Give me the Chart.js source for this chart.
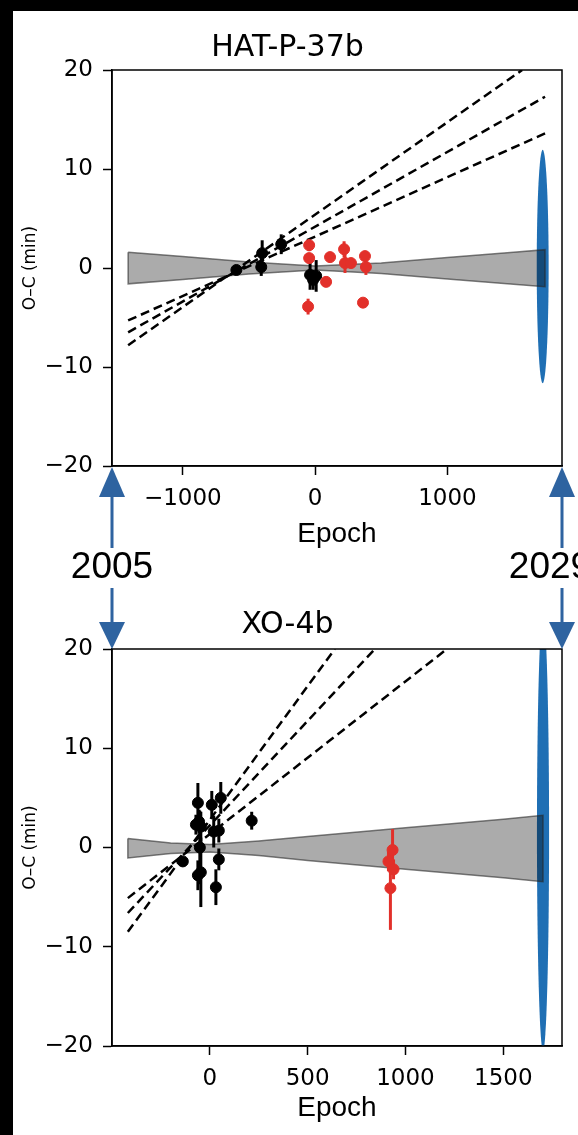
<!DOCTYPE html>
<html>
<head>
<meta charset="utf-8">
<script src="https://cdn.jsdelivr.net/npm/chart.js@4.4.1/dist/chart.umd.min.js"></script>
<style>
  html, body { margin: 0; padding: 0; background: #fff; }
  body { width: 578px; height: 1135px; position: relative; overflow: hidden; }
  #barTop { position: absolute; left: 0; top: 0; width: 578px; height: 11px; background: #000; }
  #barLeft { position: absolute; left: 0; top: 0; width: 13px; height: 1135px; background: #000; }
  .box { position: absolute; left: 13px; width: 565px; }
  #box1 { top: 11px; height: 589px; }
  #box2 { top: 600px; height: 535px; }
  .year { position: absolute; font-family: "Liberation Sans", Arial, sans-serif; font-size: 37px;
          color: #000; transform: translate(-50%, -50%); white-space: nowrap; }
  #arrows { position: absolute; left: 0; top: 0; }
</style>
</head>
<body>
<div id="barTop"></div>
<div id="barLeft"></div>
<div class="box" id="box1"><canvas id="hat" width="565" height="589"></canvas></div>
<div class="box" id="box2"><canvas id="xo" width="565" height="535"></canvas></div>
<svg id="arrows" width="578" height="1135"></svg>
<div class="year" id="yearL">2005</div>
<div class="year" id="yearR">2029</div>

<script>
// ---- HAT-P-37b ----
const hatXTicks = [-1000, 0, 1000];
const hatBlackEpoch = [-595, -400, -407, -256, -38, -15, 8];
const hatBlackOC    = [-0.2, 1.5, 0.1, 2.4, -0.7, -1.2, -0.8];
const hatBlackErr   = [0.3, 1.3, 0.9, 1.0, 1.5, 1.0, 1.6];
const hatRedEpoch = [-45, -45, -53, 113, 83, 219, 226, 271, 377, 384, 362];
const hatRedOC    = [2.3, 1.0, -3.9, 1.1, -1.4, 1.9, 0.5, 0.5, 1.2, 0.1, -3.5];
const hatRedErr   = [0.6, 0.5, 0.8, 0.4, 0.4, 0.8, 1.0, 0.4, 0.5, 0.8, 0.5];
const hatBandEpoch = [-1413, -1000, -500, 0, 500, 1000, 1500, 1738];
const hatBandUpper = [1.6, 1.15, 0.6, 0.2, 0.5, 1.05, 1.6, 1.85];
const hatBandLower = [-1.6, -1.15, -0.6, -0.2, -0.55, -1.1, -1.65, -1.9];
const hatFitX = [[-1413, 1565], [-1413, 1738], [-1413, 1738]];
const hatFitY = [[-7.8, 20], [-6.5, 17.3], [-5.3, 13.6]];
const hatEllipse = [1720, 0.15, 45, 11.8]; // centre epoch, centre O-C, half widths

// ---- XO-4b ----
const xoXTicks = [0, 500, 1000, 1500];
const xoBlackEpoch = [-138, -61, -71, -55, -46, -51, -46, -61, 10, 20, 31, 56, 46, 46, 214];
const xoBlackOC    = [-1.4, 4.5, 2.3, 2.6, 2.1, 0.0, -2.5, -2.8, 4.3, 1.6, -4.0, 5.0, 1.7, -1.2, 2.7];
const xoBlackErr   = [0.4, 2.0, 1.0, 1.2, 1.5, 3.7, 3.5, 1.5, 1.4, 1.6, 1.8, 1.6, 1.2, 1.1, 0.9];
const xoRedEpoch = [934, 913, 939, 923];
const xoRedOC    = [-0.25, -1.4, -2.2, -4.1];
const xoRedErr   = [2.1, 1.0, 1.0, 4.2];
const xoBandEpoch = [-419, -200, 0, 250, 500, 1000, 1500, 1703];
const xoBandUpper = [0.9, 0.45, 0.3, 0.65, 1.1, 2.0, 2.85, 3.25];
const xoBandLower = [-1.05, -0.6, -0.45, -0.8, -1.3, -2.2, -3.05, -3.45];
const xoFitX = [[-419, 639], [-419, 844], [-419, 1212]];
const xoFitY = [[-8.5, 20], [-6.6, 20], [-5.1, 20]];
const xoEllipse = [1703, 1.5, 31, 22];

const yTicks = [-20, -10, 0, 10, 20];

function pts(xs, ys) {
    return xs.map((x, i) => ({ x: x, y: ys[i] }));
}

function fmt(v) {
    return v < 0 ? "\u2212" + Math.abs(v) : String(v);
}

// errorbars drawn under each dataset's markers
const errorBars = {
    id: "errorBars",
    beforeDatasetDraw(chart, args) {
        const ds = chart.data.datasets[args.index];
        if (!ds.errors) return;
        const xs = chart.scales.x, ys = chart.scales.y, ctx = chart.ctx, a = chart.chartArea;
        ctx.save();
        ctx.beginPath();
        ctx.rect(a.left, a.top, a.right - a.left, a.bottom - a.top);
        ctx.clip();
        ctx.strokeStyle = ds.backgroundColor;
        ctx.lineWidth = 3;
        ds.data.forEach((p, i) => {
            const x = xs.getPixelForValue(p.x);
            ctx.beginPath();
            ctx.moveTo(x, ys.getPixelForValue(p.y - ds.errors[i]));
            ctx.lineTo(x, ys.getPixelForValue(p.y + ds.errors[i]));
            ctx.stroke();
        });
        ctx.restore();
    }
};

const ellipse = {
    id: "ellipse",
    beforeDatasetsDraw(chart, args, opts) {
        const xs = chart.scales.x, ys = chart.scales.y, ctx = chart.ctx, a = chart.chartArea;
        const e = opts.shape;
        const cx = xs.getPixelForValue(e[0]), cy = ys.getPixelForValue(e[1]);
        const rx = Math.abs(xs.getPixelForValue(e[0] + e[2]) - cx);
        const ry = Math.abs(ys.getPixelForValue(e[1] + e[3]) - cy);
        ctx.save();
        ctx.beginPath();
        ctx.rect(a.left, a.top, a.right - a.left, a.bottom - a.top);
        ctx.clip();
        ctx.beginPath();
        ctx.ellipse(cx, cy, rx, ry, 0, 0, Math.PI * 2);
        ctx.fillStyle = "#1f6fb4";
        ctx.fill();
        ctx.restore();
    }
};

const frame = {
    id: "frame",
    afterDraw(chart) {
        const a = chart.chartArea, ctx = chart.ctx;
        ctx.save();
        ctx.strokeStyle = "#000";
        ctx.lineWidth = 1.5;
        ctx.strokeRect(a.left, a.top, a.right - a.left, a.bottom - a.top);
        ctx.restore();
    }
};

function makePanel(id, p) {
    const bandPoly = pts(p.bandEpoch, p.bandUpper)
        .concat(pts(p.bandEpoch, p.bandLower).reverse());
    bandPoly.push(bandPoly[0]);

    const datasets = [{
        data: bandPoly,
        showLine: true,
        fill: "shape",
        backgroundColor: "rgba(0,0,0,0.33)",
        borderColor: "rgba(40,40,40,0.6)",
        borderWidth: 1.5,
        pointRadius: 0,
        order: 5
    }];
    p.fitX.forEach((fx, i) => {
        datasets.push({
            data: pts(fx, p.fitY[i]),
            showLine: true,
            borderColor: "#000",
            borderWidth: 2.5,
            borderDash: [9, 5],
            pointRadius: 0,
            order: 4
        });
    });
    datasets.push({
        data: pts(p.blackEpoch, p.blackOC),
        errors: p.blackErr,
        backgroundColor: "#000",
        borderColor: "#000",
        pointRadius: 5.5,
        order: 2
    });
    datasets.push({
        data: pts(p.redEpoch, p.redOC),
        errors: p.redErr,
        backgroundColor: "#e2302a",
        borderColor: "#e2302a",
        pointRadius: 5.5,
        order: 1
    });

    return new Chart(document.getElementById(id), {
        type: "scatter",
        data: { datasets: datasets },
        plugins: [errorBars, ellipse, frame],
        options: {
            responsive: false,
            animation: false,
            events: [],
            layout: { padding: { left: 0, right: 16, top: 0, bottom: 0 } },
            plugins: {
                legend: { display: false },
                tooltip: { enabled: false },
                ellipse: { shape: p.ellipse },
                title: {
                    display: true,
                    text: p.title,
                    color: "#000",
                    font: { family: "DejaVu Sans", size: 30, weight: "normal", lineHeight: 1.2 },
                    padding: p.titlePad
                }
            },
            scales: {
                x: {
                    type: "linear",
                    min: p.xMin,
                    max: p.xMax,
                    afterBuildTicks: s => { s.ticks = p.xTicks.map(v => ({ value: v })); },
                    afterFit: s => { s.height = p.xHeight; },
                    border: { color: "#000", width: 1.5 },
                    grid: { drawOnChartArea: false, tickLength: 9, tickWidth: 1.5, tickColor: "#000" },
                    ticks: {
                        color: "#000", padding: 10, maxRotation: 0, autoSkip: false,
                        font: { family: "DejaVu Sans", size: 23 },
                        callback: v => fmt(v)
                    },
                    title: {
                        display: true, text: "Epoch", color: "#000",
                        font: { family: "Liberation Sans", size: 28 },
                        padding: { top: 0, bottom: p.epochPad }
                    }
                },
                y: {
                    type: "linear",
                    min: -20,
                    max: 20,
                    afterBuildTicks: s => { s.ticks = yTicks.map(v => ({ value: v })); },
                    afterFit: s => { s.width = 99; },
                    border: { color: "#000", width: 1.5 },
                    grid: { drawOnChartArea: false, tickLength: 9, tickWidth: 1.5, tickColor: "#000" },
                    ticks: {
                        color: "#000", padding: 10,
                        font: { family: "DejaVu Sans", size: 23 },
                        callback: v => fmt(v)
                    },
                    title: {
                        display: true, text: "O\u2013C (min)", color: "#000",
                        font: { family: "DejaVu Sans", size: 17 },
                        padding: { top: 7, bottom: 0 }
                    }
                }
            }
        }
    });
}

const hatChart = makePanel("hat", {
    title: "HAT-P-37b", titlePad: { top: 19, bottom: 4 },
    xMin: -1535, xMax: 1866, xTicks: hatXTicks, xHeight: 134, epochPad: 49,
    blackEpoch: hatBlackEpoch, blackOC: hatBlackOC, blackErr: hatBlackErr,
    redEpoch: hatRedEpoch, redOC: hatRedOC, redErr: hatRedErr,
    bandEpoch: hatBandEpoch, bandUpper: hatBandUpper, bandLower: hatBandLower,
    fitX: hatFitX, fitY: hatFitY, ellipse: hatEllipse
});

const xoChart = makePanel("xo", {
    title: "XO-4b", titlePad: { top: 7, bottom: 6 },
    xMin: -500, xMax: 1800, xTicks: xoXTicks, xHeight: 89, epochPad: 10,
    blackEpoch: xoBlackEpoch, blackOC: xoBlackOC, blackErr: xoBlackErr,
    redEpoch: xoRedEpoch, redOC: xoRedOC, redErr: xoRedErr,
    bandEpoch: xoBandEpoch, bandUpper: xoBandUpper, bandLower: xoBandLower,
    fitX: xoFitX, fitY: xoFitY, ellipse: xoEllipse
});

// arrows between the two panels, at the ends of the time axis
const a1 = hatChart.chartArea, a2 = xoChart.chartArea;
const xL = 13 + a1.left, xR = 13 + a1.right;
const yUp = 11 + a1.bottom, yDown = 600 + a2.top;
const blue = "#2e63a0";
let svg = "";
[xL, xR].forEach(x => {
    svg += `<polygon points="${x},${yUp + 1} ${x - 13},${yUp + 31} ${x + 13},${yUp + 31}" fill="${blue}"/>`;
    svg += `<rect x="${x - 1.5}" y="${yUp + 30}" width="3" height="52" fill="${blue}"/>`;
    svg += `<rect x="${x - 1.5}" y="588" width="3" height="${yDown - 26 - 588}" fill="${blue}"/>`;
    svg += `<polygon points="${x},${yDown} ${x - 13},${yDown - 27} ${x + 13},${yDown - 27}" fill="${blue}"/>`;
});
document.getElementById("arrows").innerHTML = svg;

const yl = document.getElementById("yearL"), yr = document.getElementById("yearR");
yl.style.left = xL + "px"; yl.style.top = "566px";
yr.style.left = (xR - 12) + "px"; yr.style.top = "566px";
</script>
</body>
</html>
